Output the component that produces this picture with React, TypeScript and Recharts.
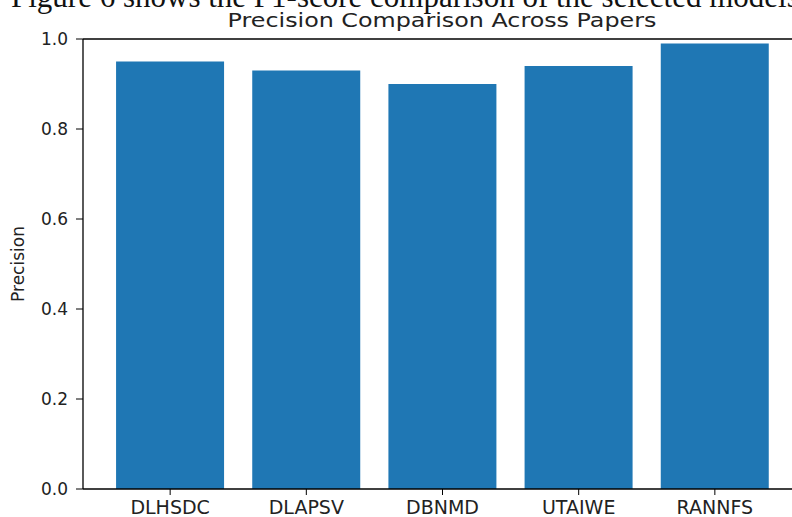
import * as React from "react";
import {
  BarChart,
  Bar,
  XAxis,
  YAxis,
  ReferenceLine,
} from "recharts";

const papers = ["DLHSDC", "DLAPSV", "DBNMD", "UTAIWE", "RANNFS"];
const precision = [0.95, 0.93, 0.9, 0.94, 0.99];
const yTicks = [0, 0.2, 0.4, 0.6, 0.8, 1.0];

const data = papers.map((name, i) => ({ idx: i, name, precision: precision[i] }));

const font = "'DejaVu Sans', sans-serif";

export default function App() {
  return (
    <div
      style={{
        position: "fixed",
        left: 0,
        top: 0,
        width: 792,
        height: 517,
        overflow: "hidden",
        background: "#fff",
      }}
    >
      <div
        style={{
          position: "absolute",
          left: 11,
          top: -21,
          whiteSpace: "nowrap",
          fontFamily: "'Liberation Serif', serif",
          fontSize: 31,
          color: "#111",
        }}
      >
        Figure 6 shows the F1-score comparison of the selected models
      </div>
      <div
        style={{
          position: "absolute",
          left: 0,
          width: 884,
          top: 8,
          textAlign: "center",
          whiteSpace: "nowrap",
          fontFamily: font,
          fontSize: 20,
          color: "#222",
          transform: "scaleX(1.19)",
          transformOrigin: "442px 0",
        }}
      >
        Precision Comparison Across Papers
      </div>
      <BarChart
        width={810}
        height={517}
        data={data}
        margin={{ top: 39, right: 8, left: 0, bottom: 0 }}
        style={{ position: "absolute", left: 0, top: 0 }}
      >
        <XAxis
          dataKey="idx"
          type="number"
          domain={[-0.64, 4.64]}
          ticks={[0, 1, 2, 3, 4]}
          allowDataOverflow
          height={28}
          tickFormatter={(v: number) => papers[v]}
          tick={{ fontFamily: font, fontSize: 19, fill: "#222" }}
          tickSize={6}
          tickMargin={6}
          stroke="#000"
          axisLine={{ stroke: "#000", strokeWidth: 1.3 }}
        />
        <YAxis
          type="number"
          domain={[0, 1]}
          ticks={yTicks}
          width={83}
          tickFormatter={(v: number) => v.toFixed(1)}
          tick={{ fontFamily: font, fontSize: 17, fill: "#222" }}
          tickSize={7}
          tickMargin={8}
          stroke="#000"
          axisLine={{ stroke: "#000", strokeWidth: 1.3 }}
          label={{
            value: "Precision",
            angle: -90,
            position: "insideLeft",
            offset: 18,
            style: { fontFamily: font, fontSize: 17, fill: "#222", textAnchor: "middle" },
          }}
        />
        <ReferenceLine y={1} stroke="#000" strokeWidth={1.3} ifOverflow="extendDomain" />
        <Bar
          dataKey="precision"
          fill="#1f77b4"
          barSize={108}
          isAnimationActive={false}
        />
      </BarChart>
    </div>
  );
}
